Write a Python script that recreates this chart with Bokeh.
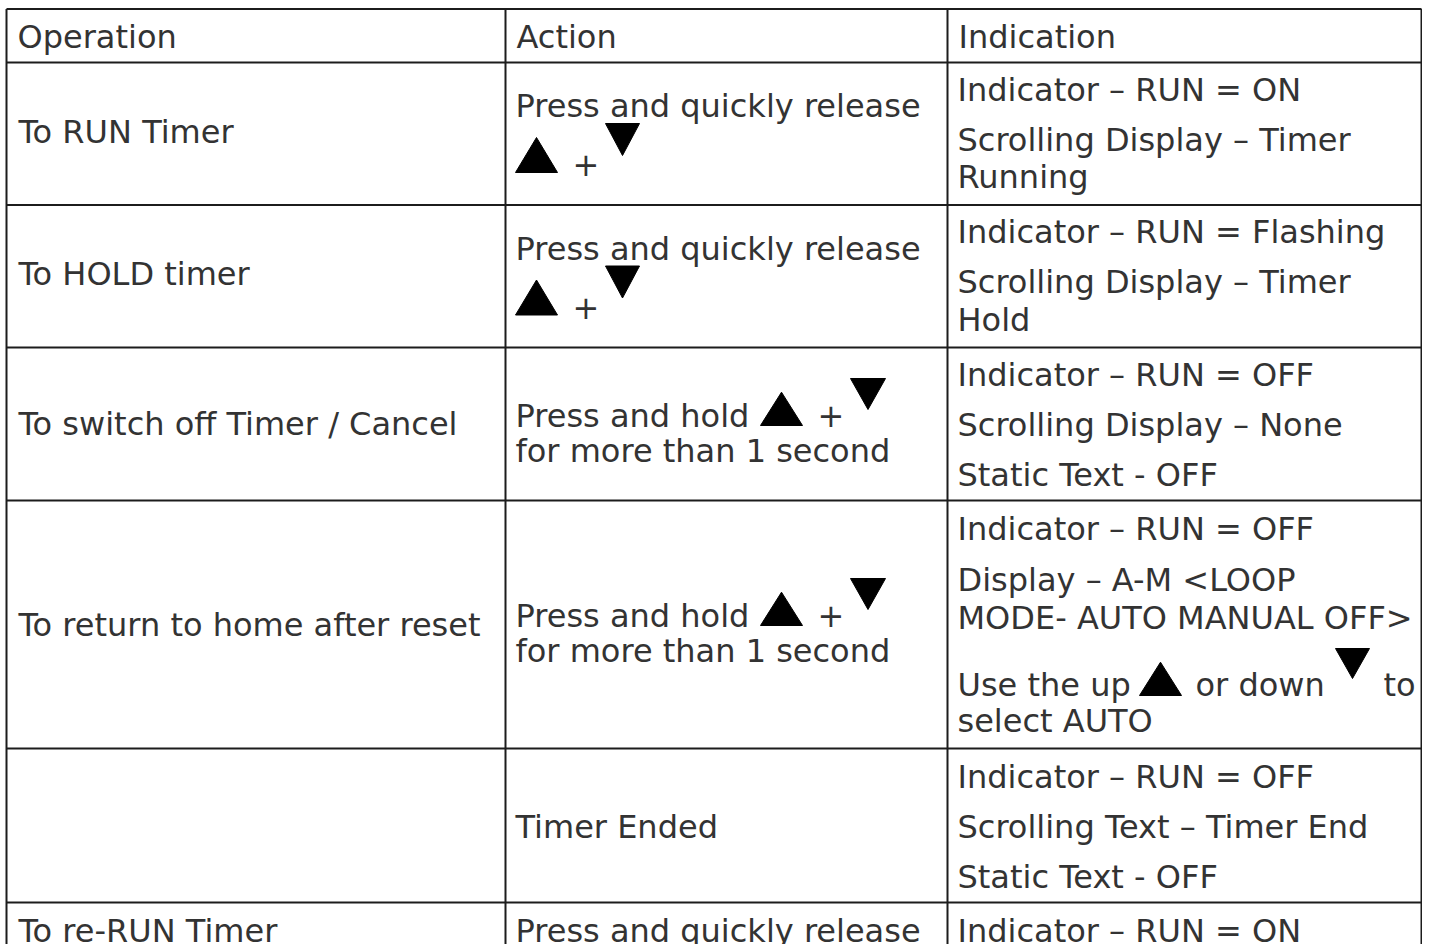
from bokeh.plotting import figure
from bokeh.models import Range1d, ColumnDataSource
from bokeh.core.properties import value
from bokeh.embed import file_html
from bokeh.resources import INLINE

# ---------------- data ----------------
headers = ["Operation", "Action", "Indication"]

operations = ["To RUN Timer", "To HOLD timer", "To switch off Timer / Cancel",
              "To return to home after reset", "", "To re-RUN Timer"]

actions = [
    ["Press and quickly release"],
    ["Press and quickly release"],
    ["Press and hold", "for more than 1 second"],
    ["Press and hold", "for more than 1 second"],
    ["Timer Ended"],
    ["Press and quickly release"],
]

indications = [
    ["Indicator – RUN = ON", "Scrolling Display – Timer", "Running"],
    ["Indicator – RUN = Flashing", "Scrolling Display – Timer", "Hold"],
    ["Indicator – RUN = OFF", "Scrolling Display – None", "Static Text - OFF"],
    ["Indicator – RUN = OFF", "Display – A-M <LOOP", "MODE- AUTO MANUAL OFF>",
     "Use the up", "select AUTO"],
    ["Indicator – RUN = OFF", "Scrolling Text – Timer End", "Static Text - OFF"],
    ["Indicator – RUN = ON"],
]

# ---------------- layout (pixels) ----------------
col_x = [6, 505, 947, 1421]
row_y = [8.5, 62, 204.5, 347, 500, 748, 902, 1000]
pad = 11
BASE_FIX = -11  # renderer's baseline offset correction

header_base = 47
op_base = [142, 284.5, 434.5, 635.5, None, 941.5]
act_base = [[116.7], [259.2], [426, 461.7], [626, 661.7], [837], [941.5]]
ind_base = [[100, 150, 187.7], [242.5, 292.5, 330.2], [385, 435, 485],
            [539.3, 590, 628.3, 695, 731.7], [787, 837, 887], [941.5]]

# inline extra words / symbols
extra_text = [("+", 572, 175), ("+", 572, 317.5), ("+", 817, 426), ("+", 817, 626),
              ("or down", 1195, 695), ("to", 1383, 695)]
tri_up = [(515, 557, 137, 172), (515, 557, 279.5, 314.5), (760, 802, 391.7, 425),
          (760, 802, 591.7, 625), (1139, 1181, 661.7, 695)]
tri_down = [(605, 639, 123, 155), (605, 639, 265.5, 297.5), (850, 885, 378, 409),
            (850, 885, 578, 609), (1335, 1369, 648, 678)]

TEXT_COLOR = "#333333"
LINE_COLOR = "#1c1c1c"
FONT = "DejaVu Sans"

p = figure(width=1422, height=944, x_range=Range1d(0, 1422), y_range=Range1d(944, 0),
           output_backend="svg", toolbar_location=None, min_border=0,
           x_axis_type=None, y_axis_type=None, outline_line_color=None,
           background_fill_color="white", border_fill_color="white")
p.grid.visible = False

# grid lines of the table
p.segment(x0=[col_x[0]] * len(row_y), x1=[col_x[-1]] * len(row_y), y0=row_y, y1=row_y,
          line_color=LINE_COLOR, line_width=2)
p.segment(x0=col_x, x1=col_x, y0=[row_y[0]] * len(col_x), y1=[row_y[-1]] * len(col_x),
          line_color=LINE_COLOR, line_width=2)

# texts
xs, ys, ts = [], [], []
for j, h in enumerate(headers):
    xs.append(col_x[j] + pad); ys.append(header_base); ts.append(h)
for i, op in enumerate(operations):
    if op:
        xs.append(col_x[0] + pad + 1); ys.append(op_base[i]); ts.append(op)
for i, lines in enumerate(actions):
    for t, b in zip(lines, act_base[i]):
        xs.append(col_x[1] + pad - 1); ys.append(b); ts.append(t)
for i, lines in enumerate(indications):
    for t, b in zip(lines, ind_base[i]):
        xs.append(col_x[2] + pad - 1); ys.append(b); ts.append(t)
for t, x, y in extra_text:
    xs.append(x); ys.append(y); ts.append(t)
ys = [y + BASE_FIX for y in ys]

src = ColumnDataSource(dict(x=xs, y=ys, text=ts))
p.text(x="x", y="y", text="text", source=src, text_font=value(FONT),
       text_font_size="32px", text_color=TEXT_COLOR, text_align="left",
       text_baseline="alphabetic")

# triangles
pxs, pys = [], []
for l, r, t, b in tri_up:
    pxs.append([l, (l + r) / 2, r]); pys.append([b, t, b])
for l, r, t, b in tri_down:
    pxs.append([l, r, (l + r) / 2]); pys.append([t, t, b])
p.patches(xs=pxs, ys=pys, fill_color="black", line_color="black", line_width=1)

open("out.html", "w").write(file_html(p, INLINE))
